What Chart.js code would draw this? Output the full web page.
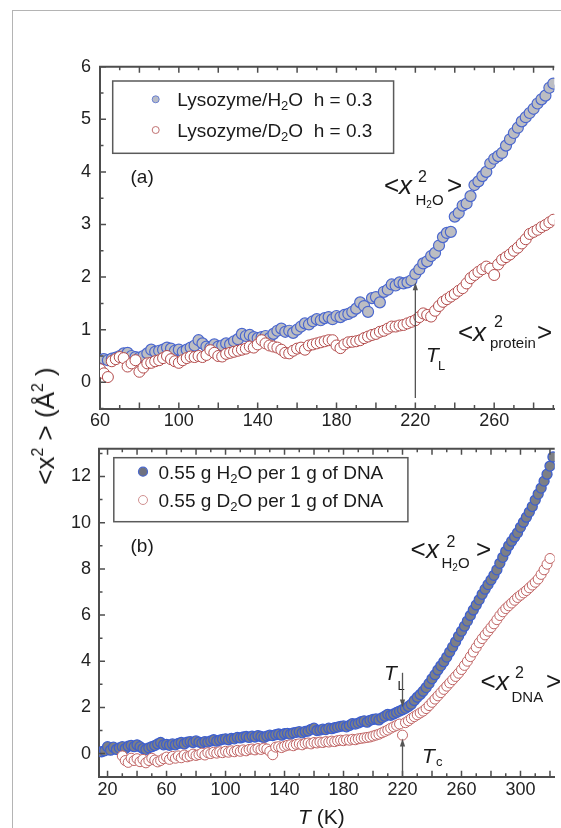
<!DOCTYPE html>
<html><head><meta charset="utf-8">
<script src="https://cdn.jsdelivr.net/npm/chart.js@4.4.1/dist/chart.umd.min.js"></script>
<style>
html,body{margin:0;padding:0;background:#fff;width:561px;height:828px;overflow:hidden;}
#wrap{position:relative;width:561px;height:828px;overflow:hidden;}
canvas{position:absolute;left:0;}
#frame{position:absolute;left:12px;top:10px;width:600px;height:900px;border-left:1.5px solid #b4b4b4;border-top:1.5px solid #b4b4b4;}
#ytitle{position:absolute;left:45px;top:426px;transform:translate(-50%,-50%) rotate(-90deg);font:26px "Liberation Sans",Arial,sans-serif;color:#1a1a1a;white-space:nowrap;line-height:1;}
#ytitle sup{font-size:16px;vertical-align:0;position:relative;top:-11px;}
</style></head>
<body><div id="wrap"><div id="frame"></div>
<canvas id="c1" width="561" height="430" style="top:0"></canvas>
<canvas id="c2" width="561" height="398" style="top:430px"></canvas>
<div id="ytitle">&lt;x<sup>2</sup> &gt; (Å<sup>2</sup> )</div>
</div>
<script>
// ---------------- DATA ----------------
const topT = [60,62,64,66,68,70,72,74,76,78,80,82,84,86,88,90,92,94,96,98,100,102,104,106,108,110,112,114,116,118,120,122,124,126,128,130,132,134,136,138,140,142,144,146,148,150,152,154,156,158,160,162,164,166,168,170,172,174,176,178,180,182,184,186,188,190,192,194,196,198,200,202,204,206,208,210,212,214,216,218,220,222,224,226,228,230,232,234,236,238,240,242,244,246,248,250,252,254,256,258,260,262,264,266,268,270,272,274,276,278,280,282,284,286,288,290];
const topH2O = [0.42,0.44,0.42,0.45,0.47,0.5,0.55,0.56,0.5,0.48,
0.47,0.5,0.55,0.62,0.58,0.6,0.62,0.66,0.64,0.6,
0.62,0.58,0.62,0.66,0.7,0.8,0.74,0.68,0.66,0.72,
0.68,0.7,0.74,0.72,0.78,0.82,0.92,0.88,0.9,0.86,
0.84,0.86,0.88,0.84,0.92,0.98,1.02,0.96,0.98,0.94,
1.0,1.06,1.12,1.1,1.16,1.2,1.18,1.22,1.24,1.2,
1.26,1.24,1.28,1.3,1.34,1.4,1.52,1.45,1.34,1.6,
1.62,1.52,1.72,1.76,1.86,1.84,1.9,1.88,1.9,1.94,
2.06,2.15,2.26,2.3,2.4,2.46,2.6,2.76,2.84,2.86,
3.15,3.22,3.36,3.4,3.54,3.75,3.82,3.92,4.0,4.16,
4.25,4.3,4.36,4.5,4.62,4.74,4.84,4.96,5.04,5.12,
5.2,5.3,5.38,5.45,5.6,5.68];
const topD2O = [0.25,0.17,0.1,0.4,0.44,0.48,0.46,0.3,0.36,0.42,
0.2,0.28,0.36,0.37,0.4,0.42,0.46,0.5,0.44,0.4,
0.37,0.42,0.46,0.49,0.48,0.5,0.48,0.52,0.61,0.56,
0.5,0.49,0.54,0.56,0.58,0.6,0.62,0.64,0.68,0.66,
0.72,0.8,0.74,0.7,0.68,0.66,0.62,0.56,0.55,0.6,
0.64,0.66,0.62,0.7,0.72,0.74,0.76,0.78,0.8,0.8,
0.7,0.65,0.72,0.76,0.77,0.78,0.8,0.84,0.87,0.9,
0.92,0.96,0.98,1.02,1.06,1.06,1.08,1.09,1.12,1.15,
1.18,1.24,1.31,1.28,1.25,1.36,1.45,1.53,1.58,1.63,
1.68,1.74,1.79,1.88,1.98,2.04,2.1,2.15,2.2,2.16,
2.04,2.24,2.33,2.38,2.43,2.5,2.56,2.64,2.72,2.82,
2.86,2.9,2.95,2.99,3.04,3.09];

const botT_H2O = [16,18,20,22,24,26,28,30,32,34,36,38,40,42,44,46,48,50,52,54,56,58,60,62,64,66,68,70,72,74,76,78,80,82,84,86,88,90,92,94,96,98,100,102,104,106,108,110,112,114,116,118,120,122,124,126,128,130,132,134,136,138,140,142,144,146,148,150,152,154,156,158,160,162,164,166,168,170,172,174,176,178,180,182,184,186,188,190,192,194,196,198,200,202,204,206,208,210,212,214,216,218,220,222,224,226,228,230,232,234,236,238,240,242,244,246,248,250,252,254,256,258,260,262,264,266,268,270,272,274,276,278,280,282,284,286,288,290,292,294,296,298,300,302,304,306,308,310,312,314,316,318,320,322];
const botH2O = [0.08,0.12,0.3,0.15,0.28,0.18,0.25,0.3,0.22,0.32,
0.36,0.3,0.38,0.3,0.22,0.18,0.25,0.3,0.35,0.42,
0.48,0.38,0.4,0.36,0.42,0.38,0.44,0.48,0.42,0.5,
0.52,0.48,0.55,0.5,0.46,0.52,0.5,0.55,0.6,0.54,
0.58,0.62,0.64,0.6,0.66,0.64,0.7,0.68,0.72,0.74,
0.7,0.76,0.72,0.78,0.74,0.7,0.76,0.8,0.78,0.82,
0.85,0.8,0.86,0.88,0.84,0.9,0.92,0.95,0.9,0.96,
0.98,1.05,1.1,1.0,1.02,1.06,1.04,1.1,1.08,1.12,
1.15,1.18,1.2,1.16,1.22,1.3,1.28,1.32,1.38,1.42,
1.36,1.44,1.48,1.5,1.46,1.55,1.62,1.7,1.66,1.72,
1.78,1.84,1.9,1.96,2.04,2.14,2.3,2.44,2.56,2.7,
2.86,3.04,3.24,3.42,3.62,3.8,3.98,4.18,4.4,4.62,
4.84,5.08,5.3,5.52,5.74,5.98,6.22,6.44,6.66,6.9,
7.12,7.32,7.52,7.72,7.96,8.24,8.5,8.76,9.0,9.2,
9.38,9.56,9.8,10.02,10.24,10.46,10.7,10.98,11.24,11.5,
11.8,12.1,12.45,12.85];
const botT_D2O = [30,32,34,36,38,40,42,44,46,48,50,52,54,56,58,60,62,64,66,68,70,72,74,76,78,80,82,84,86,88,90,92,94,96,98,100,102,104,106,108,110,112,114,116,118,120,122,124,126,128,130,132,134,136,138,140,142,144,146,148,150,152,154,156,158,160,162,164,166,168,170,172,174,176,178,180,182,184,186,188,190,192,194,196,198,200,202,204,206,208,210,212,214,216,218,220,222,224,226,228,230,232,234,236,238,240,242,244,246,248,250,252,254,256,258,260,262,264,266,268,270,272,274,276,278,280,282,284,286,288,290,292,294,296,298,300,302,304,306,308,310,312,314,316,318,320,322];
const botD2O = [-0.1,-0.3,-0.38,-0.2,-0.3,-0.22,-0.35,-0.25,-0.4,-0.3,
-0.2,-0.28,-0.36,-0.3,-0.22,-0.15,-0.25,-0.12,-0.2,-0.1,
-0.18,-0.06,-0.14,-0.1,-0.02,-0.08,-0.04,0.02,-0.06,0.04,
0.0,0.06,0.02,0.08,0.04,0.1,0.06,0.12,0.08,0.14,
0.1,0.16,0.12,0.18,0.2,0.16,0.22,0.18,0.24,0.2,
0.1,-0.05,0.28,0.3,0.26,0.32,0.36,0.38,0.34,0.4,
0.42,0.38,0.44,0.46,0.42,0.48,0.46,0.5,0.48,0.52,
0.5,0.54,0.52,0.56,0.58,0.56,0.6,0.58,0.62,0.6,
0.64,0.66,0.68,0.7,0.72,0.76,0.8,0.84,0.9,0.96,
1.02,1.1,1.16,1.22,1.28,0.8,1.34,1.42,1.52,1.6,
1.68,1.76,1.84,1.95,2.08,2.22,2.36,2.5,2.64,2.78,
2.92,3.06,3.2,3.34,3.48,3.64,3.82,4.0,4.2,4.4,
4.6,4.8,4.98,5.14,5.3,5.46,5.62,5.8,5.98,6.14,
6.28,6.4,6.52,6.64,6.76,6.86,6.96,7.06,7.18,7.3,
7.42,7.56,7.76,7.96,8.2,8.45];

const topXLabels = [60,100,140,180,220,260];
const topYLabels = [0,1,2,3,4,5,6];
const botXLabels = [20,60,100,140,180,220,260,300];
const botYLabels = [0,2,4,6,8,10,12];
const topSeries = ['Lysozyme/H_2O  h = 0.3', 'Lysozyme/D_2O  h = 0.3'];
const botSeries = ['0.55 g H_2O per 1 g of DNA', '0.55 g D_2O per 1 g of DNA'];
const transitionT = 220;

// ---------------- HELPERS ----------------
const F = '"Liberation Sans", Arial, Helvetica, sans-serif';
const AXIS = '#4d4d4d';
const TXT = '#1a1a1a';
const near = (v, s) => Math.abs(v / s - Math.round(v / s)) < 1e-6;

function frameTicks(chart, xStep, isMajX, yStep, isMajY) {
  const {ctx, chartArea: a} = chart; const xs = chart.scales.x, ys = chart.scales.y;
  ctx.save(); ctx.strokeStyle = AXIS; ctx.lineWidth = 1.5; ctx.beginPath();
  for (const t of xs.ticks) {
    const v = t.value; if (!near(v, xStep)) continue;
    const p = xs.getPixelForValue(v); const L = isMajX(v) ? 6 : 3.5;
    ctx.moveTo(p, a.bottom); ctx.lineTo(p, a.bottom - L);
    ctx.moveTo(p, a.top); ctx.lineTo(p, a.top + L);
  }
  for (const t of ys.ticks) {
    const v = t.value; if (!near(v, yStep)) continue;
    const p = ys.getPixelForValue(v); const L = isMajY(v) ? 6 : 3.5;
    ctx.moveTo(a.left, p); ctx.lineTo(a.left + L, p);
  }
  ctx.stroke();
  ctx.lineWidth = 2; ctx.beginPath(); ctx.moveTo(a.left - 1, a.top); ctx.lineTo(a.right, a.top); ctx.stroke();
  ctx.restore();
}
function rich(ctx, x, y, str, size, subSize, subDy) {
  let i = 0;
  while (i < str.length) {
    if (str[i] === '_') {
      ctx.font = subSize + 'px ' + F; ctx.fillText(str[i + 1], x, y + subDy);
      x += ctx.measureText(str[i + 1]).width; i += 2;
    } else {
      let j = i; while (j < str.length && str[j] !== '_') j++;
      const s = str.slice(i, j); ctx.font = size + 'px ' + F; ctx.fillText(s, x, y);
      x += ctx.measureText(s).width; i = j;
    }
  }
}
function marker(ctx, x, y, r, fill, stroke, lw) {
  ctx.beginPath(); ctx.arc(x, y, r, 0, Math.PI * 2); ctx.fillStyle = fill; ctx.fill();
  ctx.lineWidth = lw; ctx.strokeStyle = stroke; ctx.stroke();
}
// <x^2_sub >
function xAnn(ctx, p) {
  ctx.fillStyle = TXT; ctx.textAlign = 'left'; ctx.textBaseline = 'alphabetic';
  ctx.font = '26px ' + F; ctx.fillText('<', p.lt, p.y);
  ctx.font = 'italic 26px ' + F; ctx.fillText('x', p.xx, p.y);
  ctx.font = '16px ' + F; ctx.fillText('2', p.sup, p.y + p.supDy);
  rich(ctx, p.sub, p.y + p.subDy, p.subText, 15, 10, 3);
  ctx.font = '26px ' + F; ctx.fillText('>', p.gt, p.y);
}
function tAnn(ctx, x, y, sub, subX, subY) {
  ctx.fillStyle = TXT; ctx.textAlign = 'left'; ctx.textBaseline = 'alphabetic';
  ctx.font = 'italic 21px ' + F; ctx.fillText('T', x, y);
  ctx.font = '13px ' + F; ctx.fillText(sub, subX, subY);
}
function arrow(ctx, x, y1, y2) {
  const dir = Math.sign(y2 - y1);
  ctx.save(); ctx.strokeStyle = '#555'; ctx.fillStyle = '#555'; ctx.lineWidth = 1.3;
  ctx.beginPath(); ctx.moveTo(x, y1); ctx.lineTo(x, y2 - dir * 6); ctx.stroke();
  ctx.beginPath(); ctx.moveTo(x, y2); ctx.lineTo(x - 2.6, y2 - dir * 8); ctx.lineTo(x + 2.6, y2 - dir * 8); ctx.closePath(); ctx.fill();
  ctx.restore();
}
function legendBox(ctx, x0, y0, x1, y1) {
  ctx.save(); ctx.strokeStyle = '#5a5a5a'; ctx.lineWidth = 1.5; ctx.strokeRect(x0, y0, x1 - x0, y1 - y0); ctx.restore();
}
// tick positions every `step` inside the scale range
function stepTicks(step) {
  return s => {
    const out = [];
    for (let k = Math.ceil(s.min / step - 1e-9); k * step <= s.max + 1e-9; k++) out.push({value: +(k * step).toFixed(6)});
    s.ticks = out;
  };
}

function scaleCommon(min, max, step, labels, pad) {
  return {
    type: 'linear', min: min, max: max,
    grid: {display: false, drawTicks: false},
    border: {display: true, color: AXIS, width: 2},
    afterBuildTicks: stepTicks(step),
    ticks: {
      stepSize: step, autoSkip: false, maxRotation: 0, padding: pad,
      color: '#222', font: {family: F, size: 18},
      callback: v => labels.some(l => Math.abs(l - v) < 1e-6) ? String(Math.round(v)) : ''
    }
  };
}

Chart.defaults.animation = false;

// ---------------- PANEL (a) ----------------
const plugA = {
  id: 'plugA',
  afterDraw(chart) {
    const ctx = chart.ctx;
    frameTicks(chart, 10, v => near(v, 20), 0.5, v => near(v, 1));
    legendBox(ctx, 112.7, 81, 393.6, 153.3);
    marker(ctx, 155.7, 99.3, 3.5, '#b8bcc8', '#6a80d0', 1);
    marker(ctx, 155.7, 130, 3.5, '#ffffff', '#c07070', 1);
    ctx.fillStyle = TXT; ctx.textBaseline = 'alphabetic'; ctx.textAlign = 'left';
    rich(ctx, 177.3, 105.5, chart.data.datasets[1].label, 19, 13, 4);
    rich(ctx, 177.3, 136.5, chart.data.datasets[0].label, 19, 13, 4);
    ctx.font = '19px ' + F; ctx.fillText('(a)', 130.5, 183);
    xAnn(ctx, {lt: 384, xx: 399, y: 194, sup: 418, supDy: -12.5, sub: 415.5, subDy: 11, subText: 'H_2O', gt: 447});
    xAnn(ctx, {lt: 458, xx: 473, y: 341, sup: 494, supDy: -14, sub: 490, subDy: 7, subText: 'protein', gt: 537});
    tAnn(ctx, 426, 362, 'L', 438, 370);
    const xs = chart.scales.x, ys = chart.scales.y;
    arrow(ctx, xs.getPixelForValue(transitionT), ys.getPixelForValue(-0.3), ys.getPixelForValue(1.9));
  }
};
new Chart(document.getElementById('c1'), {
  type: 'scatter',
  data: {datasets: [
    {label: topSeries[1], data: topT.map((t, i) => ({x: t, y: topD2O[i]})), order: 0,
     pointRadius: 5.5, pointBackgroundColor: '#ffffff', pointBorderColor: '#b34b4b', pointBorderWidth: 1, clip: 0},
    {label: topSeries[0], data: topT.map((t, i) => ({x: t, y: topH2O[i]})), order: 1,
     pointRadius: 5.5, pointBackgroundColor: '#bcbdc2', pointBorderColor: '#4a67cf', pointBorderWidth: 1.2, clip: 0}
  ]},
  options: {
    responsive: false, devicePixelRatio: 1,
    layout: {padding: {top: 66.7, left: 0, right: 0, bottom: 0}},
    plugins: {legend: {display: false}, tooltip: {enabled: false}},
    scales: {
      x: Object.assign(scaleCommon(60, 290.5, 10, topXLabels, 2), {afterFit: s => { s.height = 430 - 408.6; }}),
      y: Object.assign(scaleCommon(-0.5, 6, 0.5, topYLabels, 9), {afterFit: s => { s.width = 100; }})
    }
  },
  plugins: [plugA]
});

// ---------------- PANEL (b) ----------------
const plugB = {
  id: 'plugB',
  afterDraw(chart) {
    const ctx = chart.ctx;
    frameTicks(chart, 10, v => near(v, 20), 1, v => near(v, 2));
    legendBox(ctx, 113.8, 27.7, 407.9, 91.7);
    marker(ctx, 143, 41.7, 4.5, '#6f7280', '#4a68cc', 1.2);
    marker(ctx, 143, 70, 4.5, '#ffffff', '#d09090', 1);
    ctx.fillStyle = TXT; ctx.textBaseline = 'alphabetic'; ctx.textAlign = 'left';
    rich(ctx, 158.5, 49.3, chart.data.datasets[1].label, 19, 13, 4);
    rich(ctx, 158.5, 76.7, chart.data.datasets[0].label, 19, 13, 4);
    ctx.font = '19px ' + F; ctx.fillText('(b)', 130.5, 121.5);
    xAnn(ctx, {lt: 410.5, xx: 426, y: 128, sup: 446.5, supDy: -11, sub: 441.5, subDy: 10, subText: 'H_2O', gt: 476});
    xAnn(ctx, {lt: 480.5, xx: 496, y: 260, sup: 515, supDy: -12, sub: 511.5, subDy: 11.5, subText: 'DNA', gt: 546});
    tAnn(ctx, 384, 250, 'L', 397.5, 260);
    tAnn(ctx, 422, 333, 'c', 436, 336);
    const xs = chart.scales.x, ys = chart.scales.y;
    const px = xs.getPixelForValue(transitionT);
    arrow(ctx, px, ys.getPixelForValue(3.5), ys.getPixelForValue(2.0));
    arrow(ctx, px, ys.getPixelForValue(-1), ys.getPixelForValue(0.65));
    ctx.fillStyle = TXT; ctx.textBaseline = 'alphabetic';
    ctx.font = 'italic 21px ' + F; ctx.fillText('T', 298, 394);
    const w = ctx.measureText('T').width;
    ctx.font = '21px ' + F; ctx.fillText(' (K)', 298 + w, 394);
  }
};
new Chart(document.getElementById('c2'), {
  type: 'scatter',
  data: {datasets: [
    {label: botSeries[1], data: botT_D2O.map((t, i) => ({x: t, y: botD2O[i]})), order: 0,
     pointRadius: 5, pointBackgroundColor: '#ffffff', pointBorderColor: '#c06464', pointBorderWidth: 1, clip: 0},
    {label: botSeries[0], data: botT_H2O.map((t, i) => ({x: t, y: botH2O[i]})), order: 1,
     pointRadius: 5, pointBackgroundColor: '#7d7f85', pointBorderColor: '#3d5fcf', pointBorderWidth: 1.3, clip: 0}
  ]},
  options: {
    responsive: false, devicePixelRatio: 1,
    layout: {padding: {top: 3, left: 0, right: 0, bottom: 0}},
    plugins: {legend: {display: false}, tooltip: {enabled: false}},
    scales: {
      x: Object.assign(scaleCommon(14.2, 323.2, 10, botXLabels, 3), {afterFit: s => { s.height = 398 - 346.7; }}),
      y: Object.assign(scaleCommon(-1, 13.2, 1, botYLabels, 8), {afterFit: s => { s.width = 99; }})
    }
  },
  plugins: [plugB]
});
</script>
</body></html>
